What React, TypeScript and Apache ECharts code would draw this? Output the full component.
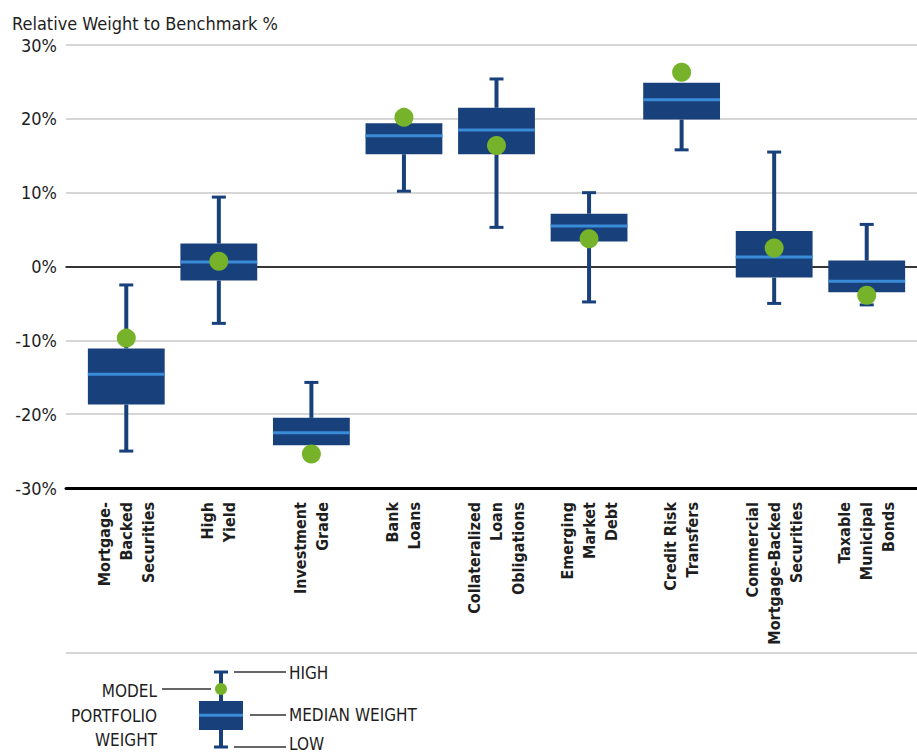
import React, { useEffect, useRef } from "react";
import * as echarts from "echarts";

const categories = [
  "Mortgage-\nBacked\nSecurities",
  "High\nYield",
  "Investment\nGrade",
  "Bank\nLoans",
  "Collateralized\nLoan\nObligations",
  "Emerging\nMarket\nDebt",
  "Credit Risk\nTransfers",
  "Commercial\nMortgage-Backed\nSecurities",
  "Taxable\nMunicipal\nBonds",
];
const lowValues = [-25.0, -7.7, -24.2, 10.2, 5.3, -4.8, 15.8, -5.0, -5.2];
const q1Values = [-18.7, -1.9, -24.2, 15.2, 15.2, 3.4, 19.9, -1.5, -3.5];
const medianValues = [-14.6, 0.6, -22.5, 17.7, 18.5, 5.5, 22.6, 1.3, -2.0];
const q3Values = [-11.1, 3.1, -20.5, 19.4, 21.5, 7.15, 24.9, 4.8, 0.8];
const highValues = [-2.5, 9.4, -15.7, 19.4, 25.4, 10.0, 24.9, 15.5, 5.7];
const modelValues = [-9.7, 0.7, -25.4, 20.2, 16.4, 3.75, 26.3, 2.5, -3.9];
const yTicks = { min: -30, max: 30, interval: 10 };

const FONT = "'Liberation Sans Narrow', 'DejaVu Sans Condensed', 'Roboto Condensed', sans-serif";
const BOX = "#18407a";
const MEDIAN = "#3a8bd8";
const GREEN = "#76b22a";
const TEXT = "#1e1e1e";

export default function App() {
  const ref = useRef<HTMLDivElement>(null);
  useEffect(() => {
    document.body.style.margin = "0";
    const chart = echarts.init(ref.current!, null, { renderer: "svg" });
    const boxData = categories.map((_, i) => [
      i,
      lowValues[i],
      q1Values[i],
      medianValues[i],
      q3Values[i],
      highValues[i],
    ]);
    const gridBox = { top: 45, bottom: 266 };
    const hiddenY = (idx: number) => ({
      type: "value",
      gridIndex: idx,
      min: yTicks.min,
      max: yTicks.max,
      interval: yTicks.interval,
      show: false,
    });
    const legendLine = (x1: number, y1: number, x2: number, y2: number) => ({
      type: "line",
      shape: { x1, y1, x2, y2 },
      style: { stroke: "#333", lineWidth: 1.3 },
    });
    const legendText = (text: string, x: number, y: number, align: string) => ({
      type: "text",
      x,
      y,
      style: {
        text,
        fill: TEXT,
        font: `17px ${FONT}`,
        align,
        verticalAlign: "middle",
      },
    });
    chart.setOption({
      animation: false,
      backgroundColor: "#fff",
      textStyle: { fontFamily: FONT },
      grid: [
        { left: 66, right: 0, ...gridBox },
        { left: 66, right: 0, ...gridBox },
        { left: 80, right: 4, ...gridBox },
      ],
      xAxis: [
        {
          type: "value",
          gridIndex: 0,
          min: 0,
          max: 1,
          axisLine: { show: true, onZero: true, lineStyle: { color: "#000", width: 1.5 } },
          axisTick: { show: false },
          axisLabel: { show: false },
          splitLine: { show: false },
        },
        {
          type: "value",
          gridIndex: 1,
          min: 0,
          max: 1,
          position: "bottom",
          axisLine: { show: true, onZero: false, lineStyle: { color: "#000", width: 3 } },
          axisTick: { show: false },
          axisLabel: { show: false },
          splitLine: { show: false },
        },
        {
          type: "category",
          gridIndex: 2,
          data: categories,
          axisLine: { show: false },
          axisTick: { show: false },
          splitLine: { show: false },
          axisLabel: {
            interval: 0,
            rotate: 90,
            margin: 14,
            fontFamily: FONT,
            fontSize: 16,
            fontWeight: "bold",
            lineHeight: 22,
            color: TEXT,
          },
        },
      ],
      yAxis: [
        {
          type: "value",
          gridIndex: 0,
          min: yTicks.min,
          max: yTicks.max,
          interval: yTicks.interval,
          axisLine: { show: false },
          axisTick: { show: false },
          axisLabel: {
            formatter: "{value}%",
            fontFamily: FONT,
            fontSize: 18,
            color: TEXT,
            margin: 9,
          },
          splitLine: { show: true, lineStyle: { color: "#c9c9c9", width: 1.5 } },
        },
        hiddenY(1),
        hiddenY(2),
      ],
      graphic: [
        {
          type: "text",
          left: 12,
          top: 14,
          style: { text: "Relative Weight to Benchmark %", fill: TEXT, font: `18px ${FONT}` },
        },
        {
          type: "line",
          shape: { x1: 66, y1: 653, x2: 917, y2: 653 },
          style: { stroke: "#c9c9c9", lineWidth: 1.5 },
        },
        {
          type: "line",
          shape: { x1: 221, y1: 672, x2: 221, y2: 747 },
          style: { stroke: BOX, lineWidth: 4 },
        },
        { type: "rect", shape: { x: 214, y: 670.5, width: 14, height: 3 }, style: { fill: BOX } },
        { type: "rect", shape: { x: 214, y: 745.5, width: 14, height: 3 }, style: { fill: BOX } },
        { type: "rect", shape: { x: 199, y: 701, width: 44, height: 29 }, style: { fill: BOX } },
        { type: "rect", shape: { x: 199, y: 713.8, width: 44, height: 3 }, style: { fill: MEDIAN } },
        { type: "circle", shape: { cx: 221, cy: 689, r: 6 }, style: { fill: GREEN } },
        legendLine(162, 689, 211, 689),
        legendLine(234, 672, 286, 672),
        legendLine(250, 715, 286, 715),
        legendLine(234, 747, 286, 747),
        legendText("HIGH", 289, 673, "left"),
        legendText("MEDIAN WEIGHT", 289, 715, "left"),
        legendText("LOW", 289, 744, "left"),
        legendText("MODEL", 157, 691, "right"),
        legendText("PORTFOLIO", 157, 716, "right"),
        legendText("WEIGHT", 157, 740, "right"),
      ],
      series: [
        {
          type: "custom",
          xAxisIndex: 2,
          yAxisIndex: 2,
          data: boxData,
          encode: { x: 0, y: [1, 2, 3, 4, 5] },
          z: 2,
          renderItem: (params: any, api: any) => {
            const idx = api.value(0);
            const low = api.value(1);
            const q1 = api.value(2);
            const med = api.value(3);
            const q3 = api.value(4);
            const high = api.value(5);
            const pLow = api.coord([idx, low]);
            const pQ1 = api.coord([idx, q1]);
            const pMed = api.coord([idx, med]);
            const pQ3 = api.coord([idx, q3]);
            const pHigh = api.coord([idx, high]);
            const x = pMed[0];
            const bw = api.size([1, 0])[0] * 0.83;
            const children: any[] = [];
            if (high > q3) {
              children.push({
                type: "line",
                shape: { x1: x, y1: pHigh[1], x2: x, y2: pQ3[1] },
                style: { stroke: BOX, lineWidth: 4 },
              });
              children.push({
                type: "rect",
                shape: { x: x - 7, y: pHigh[1] - 1.5, width: 14, height: 3 },
                style: { fill: BOX },
              });
            }
            if (low < q1) {
              children.push({
                type: "line",
                shape: { x1: x, y1: pQ1[1], x2: x, y2: pLow[1] },
                style: { stroke: BOX, lineWidth: 4 },
              });
              children.push({
                type: "rect",
                shape: { x: x - 7, y: pLow[1] - 1.5, width: 14, height: 3 },
                style: { fill: BOX },
              });
            }
            children.push({
              type: "rect",
              shape: { x: x - bw / 2, y: pQ3[1], width: bw, height: pQ1[1] - pQ3[1] },
              style: { fill: BOX },
            });
            children.push({
              type: "rect",
              shape: { x: x - bw / 2, y: pMed[1] - 1.5, width: bw, height: 3 },
              style: { fill: MEDIAN },
            });
            return { type: "group", children };
          },
        },
        {
          type: "scatter",
          xAxisIndex: 2,
          yAxisIndex: 2,
          data: modelValues,
          symbol: "circle",
          symbolSize: 19,
          z: 3,
          itemStyle: { color: GREEN, opacity: 1 },
        },
      ],
    });
    return () => chart.dispose();
  }, []);
  return <div ref={ref} style={{ width: 917, height: 754 }} />;
}
